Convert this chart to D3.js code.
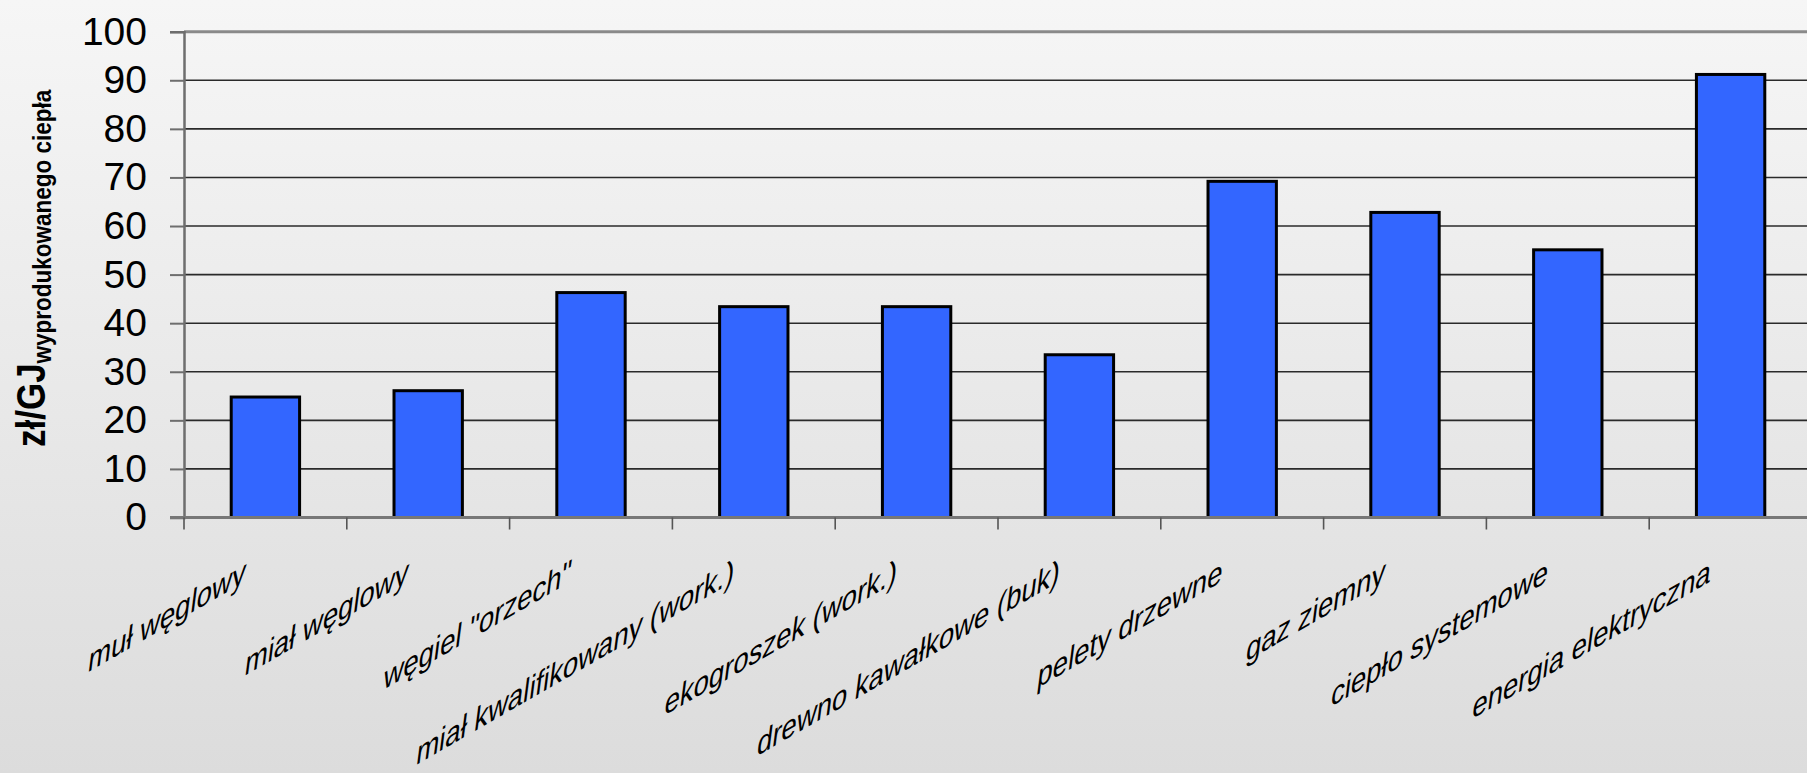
<!DOCTYPE html>
<html lang="pl">
<head>
<meta charset="UTF-8">
<title>Koszt ciepła</title>
<script src="https://d3js.org/d3.v7.min.js"></script>
<style>
  html, body { margin: 0; padding: 0; overflow: hidden; }
  text { font-family: Arial, "Liberation Sans", sans-serif; fill: #000; }
</style>
</head>
<body>
<script>
// data
const categories = ["muł węglowy", "miał węglowy", "węgiel \"orzech\"", "miał kwalifikowany (work.)",
  "ekogroszek (work.)", "drewno kawałkowe (buk)", "pelety drzewne", "gaz ziemny",
  "ciepło systemowe", "energia elektryczna"];
const values = [24.8, 26.1, 46.3, 43.4, 43.4, 33.5, 69.2, 62.8, 55.1, 91.2];
const yTicks = [0, 10, 20, 30, 40, 50, 60, 70, 80, 90, 100];
const yTitle = "zł/GJ";
const yTitleSub = "wyprodukowanego ciepła";

const W = 1807, H = 773;
const plotLeft = 184, plotRight = 1812, plotTop = 31.7, plotBottom = 517.5;

const svg = d3.select("body").append("svg")
    .attr("width", W)
    .attr("height", H);

// background gradient
const grad = svg.append("defs").append("linearGradient")
    .attr("id", "bg").attr("x1", 0).attr("y1", 0).attr("x2", 0).attr("y2", 1);
grad.append("stop").attr("offset", "0%").attr("stop-color", "#f6f6f6");
grad.append("stop").attr("offset", "100%").attr("stop-color", "#dcdcdc");
svg.append("rect").attr("width", W).attr("height", H).attr("fill", "url(#bg)");

const x = d3.scaleBand()
    .domain(categories)
    .range([plotLeft, plotRight])
    .padding(0);

const y = d3.scaleLinear()
    .domain([0, 100])
    .range([plotBottom, plotTop]);

// gridlines
svg.append("g")
    .selectAll("line")
    .data(yTicks.filter(d => d > 0 && d < 100))
    .enter().append("line")
    .attr("x1", plotLeft).attr("x2", W)
    .attr("y1", d => y(d)).attr("y2", d => y(d))
    .attr("stroke", "#2a2a2a")
    .attr("stroke-width", 1.6);

// top border of plot area
svg.append("line")
    .attr("x1", plotLeft).attr("x2", W)
    .attr("y1", y(100)).attr("y2", y(100))
    .attr("stroke", "#8a8a8a")
    .attr("stroke-width", 3);

// y axis
const yAxis = svg.append("g")
    .attr("transform", `translate(${plotLeft},0)`)
    .call(d3.axisLeft(y).tickValues(yTicks).tickSize(14).tickPadding(23));
yAxis.select(".domain").attr("stroke", "#6e6e6e").attr("stroke-width", 2.5);
yAxis.selectAll(".tick line").attr("stroke", "#6e6e6e").attr("stroke-width", 2);
yAxis.selectAll(".tick text")
    .attr("font-size", 39)
    .attr("font-family", "Arial, 'Liberation Sans', sans-serif")
    .attr("fill", "#000");

// bars
const barW = x.bandwidth() * 0.42;
svg.append("g")
    .selectAll("rect")
    .data(values)
    .enter().append("rect")
    .attr("x", (d, i) => x(categories[i]) + (x.bandwidth() - barW) / 2)
    .attr("y", d => y(d))
    .attr("width", barW)
    .attr("height", d => y(0) - y(d))
    .attr("fill", "#3366ff")
    .attr("stroke", "#000")
    .attr("stroke-width", 3);

// x axis line and ticks at category boundaries
svg.append("line")
    .attr("x1", plotLeft - 14).attr("x2", W)
    .attr("y1", y(0)).attr("y2", y(0))
    .attr("stroke", "#777")
    .attr("stroke-width", 3);
const bounds = categories.map(c => x(c)).concat([x.range()[1]]);
svg.append("g")
    .selectAll("line")
    .data(bounds)
    .enter().append("line")
    .attr("x1", d => d).attr("x2", d => d)
    .attr("y1", y(0)).attr("y2", y(0) + 12)
    .attr("stroke", "#555")
    .attr("stroke-width", 1.6);

// slanted category labels (sheared like the original)
svg.append("g")
    .selectAll("text")
    .data(categories)
    .enter().append("text")
    .attr("transform", d => `translate(${x(d) + x.bandwidth() / 2 - 21},582) skewY(-30) skewX(-8) scale(1,1.15)`)
    .attr("text-anchor", "end")
    .attr("font-size", 27.5)
    .text(d => d);

// y axis title with subscript
const title = svg.append("text")
    .attr("transform", "translate(45,447) rotate(-90) scale(1,1.15)")
    .attr("font-weight", "bold");
title.append("tspan").attr("font-size", 35).text(yTitle);
title.append("tspan").attr("font-size", 22.5).attr("dy", 5).text(yTitleSub);
</script>
</body>
</html>
